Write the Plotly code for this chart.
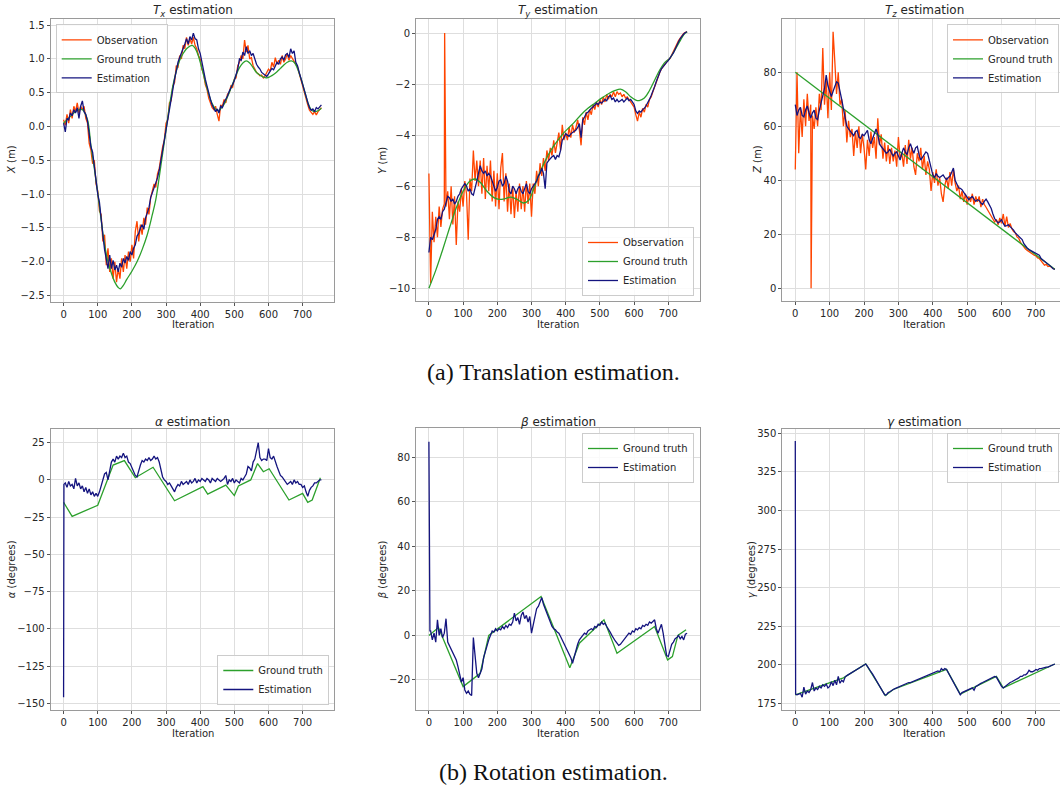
import plotly.graph_objects as go

# ---------------- data ----------------
ITER = list(range(0, 756, 5))        # 0..755 step 5 (152 values)
ITER_FROM5 = list(range(5, 756, 5))  # 5..755 step 5 (151 values)

# T_x (m)
tx_obs = [0.1, 0.02, 0.18, 0.05, 0.25, 0.12, 0.3, 0.22, 0.35, 0.2,
          0.3, 0.25, 0.3, 0.12, 0.05, -0.25, -0.35, -0.55, -0.5, -0.85,
          -0.95, -1.25, -1.3, -1.7, -1.6, -2.05, -1.8, -2.15, -1.95, -2.25,
          -2.0, -2.3, -2.1, -2.25, -1.95, -2.15, -1.9, -2.1, -1.85, -2.0,
          -1.75, -1.95, -1.55, -1.4, -1.7, -1.45, -1.6, -1.35, -1.45, -1.2,
          -1.3, -1.05, -0.95, -0.85, -0.9, -0.7, -0.62, -0.45, -0.3, -0.2,
          0.05, 0.1, 0.35, 0.38, 0.6, 0.65, 0.9, 0.88, 1.05, 1.0,
          1.2, 1.15, 1.32, 1.2, 1.3, 1.22, 1.32, 1.2, 1.15, 1.05,
          1.0, 0.85, 0.78, 0.62, 0.55, 0.42, 0.35, 0.28, 0.25, 0.3,
          0.18, 0.08, 0.32, 0.3, 0.4, 0.35, 0.48, 0.5, 0.6, 0.58,
          0.7, 0.72, 0.9, 0.95, 1.05, 1.0, 1.28, 1.1, 1.2, 1.0,
          1.02, 0.9, 0.85, 0.8, 0.78, 0.75, 0.76, 0.72, 0.75, 0.8,
          0.85, 0.82, 0.95, 0.88, 1.02, 0.92, 0.98, 0.92, 1.05, 0.95,
          1.0, 1.08, 0.98, 1.05, 1.0, 0.95, 0.92, 0.88, 0.78, 0.7,
          0.6, 0.52, 0.42, 0.32, 0.24, 0.2, 0.18, 0.22, 0.17, 0.22,
          0.25, 0.28]
tx_est = [0.05, -0.08, 0.12, 0.1, 0.2, 0.16, 0.25, 0.2, 0.28, 0.12,
          0.3, 0.38, 0.22, 0.18, 0.08, -0.12, -0.3, -0.38, -0.6, -0.8,
          -1.0, -1.12, -1.4, -1.6, -1.82, -1.95, -2.1, -1.9, -2.1, -1.98,
          -2.12, -2.05, -2.15, -2.02, -2.08, -1.95, -2.02, -1.92, -1.98, -1.85,
          -1.9, -1.8, -1.75, -1.62, -1.58, -1.5, -1.45, -1.52, -1.35, -1.28,
          -1.2, -1.05, -0.98, -0.92, -0.85, -0.76, -0.65, -0.5, -0.35, -0.18,
          0.0, 0.12, 0.28, 0.4, 0.55, 0.7, 0.82, 0.95, 1.02, 1.08,
          1.15, 1.22, 1.3, 1.22, 1.33, 1.28, 1.38, 1.3, 1.28, 1.15,
          1.08, 0.95, 0.8, 0.7, 0.6, 0.48, 0.4, 0.32, 0.28, 0.22,
          0.26, 0.2, 0.3, 0.28, 0.36, 0.4, 0.45, 0.52, 0.56, 0.62,
          0.68, 0.75, 0.85, 1.0, 0.98, 1.1, 1.05, 1.18, 1.08, 1.12,
          1.05, 1.08, 0.98, 0.92, 0.88, 0.85, 0.8, 0.78, 0.76, 0.74,
          0.78, 0.82, 0.86, 0.84, 0.9, 0.95, 0.92, 1.0, 1.03, 0.98,
          1.06, 1.08, 1.02, 1.15, 1.08, 1.12, 0.95, 0.9, 0.8, 0.72,
          0.62, 0.55, 0.45, 0.36, 0.28, 0.24, 0.26, 0.22, 0.28, 0.26,
          0.3, 0.32]
tx_gt_it = [0, 20, 40, 55, 70, 80, 90, 100, 110, 120, 130, 140, 150, 160, 166,
            175, 185, 200, 215, 230, 245, 260, 270, 280, 290, 300, 310, 320, 330, 340,
            350, 360, 370, 377, 385, 395, 405, 415, 425, 435, 445, 455, 465, 475, 485,
            495, 505, 515, 525, 535, 545, 555, 565, 575, 585, 595, 605, 615, 625, 635,
            645, 655, 667, 677, 687, 697, 707, 717, 727, 737, 747, 755]
tx_gt = [0.05, 0.15, 0.24, 0.25, 0.1, -0.28, -0.62, -0.98, -1.38, -1.75, -2.0, -2.17, -2.3, -2.38, -2.4,
         -2.35, -2.26, -2.14, -2.0, -1.82, -1.6, -1.3, -1.08, -0.75, -0.4, -0.05, 0.3, 0.6, 0.82, 0.98,
         1.08, 1.15, 1.19, 1.2, 1.16, 1.04, 0.86, 0.66, 0.48, 0.34, 0.26, 0.24, 0.29, 0.38, 0.5,
         0.63, 0.76, 0.87, 0.94, 0.97, 0.94, 0.87, 0.8, 0.76, 0.73, 0.72, 0.74, 0.77, 0.81, 0.86,
         0.91, 0.95, 0.97, 0.94, 0.83, 0.68, 0.5, 0.33, 0.24, 0.22, 0.24, 0.27]

# T_y (m)
ty_obs = [-5.5, -9.8, -7.0, -8.2, -7.2, -8.0, -6.8, -7.6, -6.9, -6.7,
          -6.8, -6.2, -7.3, -6.0, -7.5, -6.4, -8.3, -6.6, -7.0, -6.1,
          -6.8, -5.8, -6.3, -8.1, -5.7, -6.2, -4.6, -5.8, -5.0, -6.0,
          -5.0, -6.3, -4.9, -6.5, -5.2, -6.2, -5.0, -6.6, -5.4, -6.8,
          -5.5, -6.9, -5.3, -4.7, -6.6, -5.5, -7.0, -5.9, -7.1, -6.0,
          -7.25, -6.2, -7.0, -5.9, -6.9, -6.0, -7.0, -5.8, -6.7, -5.9,
          -7.2, -5.9, -6.3, -5.4, -6.0, -5.1, -5.6, -4.9, -5.4, -4.6,
          -5.0, -4.5, -4.8, -4.2, -4.7, -4.3, -3.9, -4.6, -3.6, -4.2,
          -3.9, -4.2, -3.7, -4.1, -3.6, -3.9, -3.7, -3.4, -3.8, -4.4,
          -3.3, -3.6, -3.1, -3.4, -3.0, -3.2, -2.8, -3.0, -2.7, -2.9,
          -2.6, -2.8, -2.5, -2.7, -2.4, -2.6, -2.4, -2.5, -2.3, -2.5,
          -2.3, -2.4, -2.35, -2.5, -2.4, -2.55, -2.5, -2.6, -2.7, -2.85,
          -2.9, -3.2, -3.45, -3.1, -3.3, -2.95, -3.1, -2.8, -2.9, -2.6,
          -2.5, -2.3, -2.1, -1.9, -1.7, -1.55, -1.4, -1.3, -1.2, -1.15,
          -1.05, -1.0, -0.85, -0.75, -0.6, -0.45, -0.3, -0.2, -0.1, -0.02,
          0.03, 0.05]
ty_obs_spike_it = 46
ty_obs_spike = 0.0
ty_est = [-8.6, -8.0, -8.1, -7.9, -7.7, -7.3, -7.2, -7.3, -7.0, -6.9,
          -6.6, -6.4, -6.45, -6.6, -6.5, -6.7, -6.6, -6.4, -6.3, -6.1,
          -6.0, -5.9, -6.0, -6.2, -6.1, -6.3, -6.35, -6.0, -5.8, -5.5,
          -5.2, -5.4, -5.5, -5.4, -5.6, -5.5, -5.6, -5.8, -6.0, -6.2,
          -6.05, -5.8, -5.75, -6.0, -5.9, -5.6, -5.8, -6.2, -6.3, -6.0,
          -6.1, -6.3, -6.1, -6.0, -6.2, -6.3, -6.1, -5.9, -6.2, -6.3,
          -6.1, -6.0, -5.9, -5.8, -5.6, -5.5, -5.3, -5.5, -6.1, -5.1,
          -5.0, -4.9, -4.85, -4.8, -4.95, -4.8, -4.85, -4.6, -4.2, -4.1,
          -3.95, -4.0, -4.05, -3.95, -3.9, -3.85, -3.8, -3.7, -3.55, -4.1,
          -3.4, -3.3, -3.15, -3.1, -3.0, -2.95, -2.9, -2.8, -2.75, -2.8,
          -2.7, -2.75, -2.65, -2.6, -2.65, -2.5, -2.45, -2.6, -2.55, -2.7,
          -2.6, -2.7, -2.65, -2.6, -2.7, -2.6, -2.55, -2.65, -2.6, -2.7,
          -2.8, -3.05, -3.15, -3.05, -3.1, -3.0, -2.95, -2.85, -2.75, -2.6,
          -2.45, -2.3, -2.1, -1.9, -1.7, -1.55, -1.4, -1.3, -1.22, -1.15,
          -1.08, -1.0, -0.88, -0.78, -0.62, -0.48, -0.34, -0.22, -0.12, -0.04,
          0.02, 0.05]
ty_gt_it = [0, 20, 40, 60, 80, 100, 120, 135, 150, 170, 190, 205, 220, 240, 258,
            276, 292, 305, 320, 335, 350, 365, 380, 395, 410, 425, 445, 465, 485, 505,
            525, 545, 560, 575, 590, 605, 615, 630, 645, 660, 675, 690, 705, 720, 735,
            745, 755]
ty_gt = [-10, -9.3, -8.5, -7.65, -6.85, -6.2, -5.8, -5.72, -5.85, -6.2, -6.45, -6.52, -6.5, -6.43, -6.52,
         -6.66, -6.55, -6.15, -5.6, -5.15, -4.75, -4.42, -4.15, -3.9, -3.7, -3.5, -3.2, -2.95, -2.75, -2.55,
         -2.38, -2.25, -2.2, -2.3, -2.5, -2.63, -2.65, -2.55, -2.25, -1.85, -1.45, -1.15, -0.98, -0.65, -0.3,
         -0.07, 0.05]

# T_z (m)
tz_obs = [44, 80, 50, 67, 56, 70, 60, 72, 62, 68,
          64, 59, 67, 60, 72, 66, 89, 68, 77, 63,
          80, 66, 95, 84, 72, 80, 68, 70, 60, 66,
          54, 62, 56, 59, 49, 58, 52, 60, 50, 57,
          52, 44, 55, 49, 58, 52, 56, 48, 63, 53,
          57, 48, 54, 47, 53, 46, 52, 47, 51, 45,
          56, 48, 50, 45, 53, 46, 55, 48, 52, 45,
          42, 50, 47, 52, 44, 49, 42, 47, 44, 36,
          43, 39, 44, 38, 41, 35, 32, 38, 41, 37,
          43, 38, 44, 39, 36, 38, 33, 36, 32, 35,
          31, 34, 32, 35, 31, 34, 32, 34, 30, 33,
          31, 30, 29, 28, 27, 26, 24.5, 25.5, 23.5, 26,
          24, 27.5, 23, 26.5, 22.5, 24, 22, 21, 20.5, 19,
          18.5, 17, 16, 15.5, 14.5, 14, 13.5, 13, 12.5, 12.2,
          12, 11.2, 11, 10.2, 9.5, 8.5, 8.8, 8, 8.2, 7.6,
          7.3, 7.1]
tz_obs_spike_it = 46
tz_obs_spike = 0.0
tz_est = [68, 64, 66, 67, 64, 63.5, 66, 67.5, 65, 63,
          65, 66, 63, 62.5, 66, 69, 71, 74, 79, 75,
          73, 71, 73, 75, 76.5, 76, 73.5, 70, 66.5, 63,
          60, 59, 58, 57, 56.5, 58, 58.5, 56, 55.5, 57,
          56.5, 57.5, 58.5, 55, 53.5, 55.5, 57, 59, 57, 53.5,
          52.5, 51.5, 51, 50, 50.5, 51.5, 50, 49, 50, 50.5,
          49, 47.5, 50, 52, 50.5, 49.5, 52, 53.5, 51.5, 50,
          52, 52.5, 49.5, 47.5, 48.5, 49.5, 50.5, 50, 47, 44.5,
          42, 41, 42.5, 41.5, 41, 41.5, 42, 41, 40.2, 41,
          41.5, 43, 44.5, 40, 38.5, 37.2, 37, 36.5, 35.5, 34.5,
          33.5, 32.8, 33.5, 34, 33, 32.2, 32.8, 32.5, 31.5, 31,
          32.2, 33, 32, 31, 29.5, 27.5, 25.8, 25, 24.2, 24.6,
          25.4, 24, 23, 23.2, 23.5, 22.8, 22.3, 21.5, 20.5, 19.8,
          19.2, 18.6, 18, 16.5, 15.5, 14.8, 14.3, 14, 13.7, 13.2,
          13, 12.6, 12.2, 11, 10.5, 10.1, 9.5, 8.8, 8.4, 7.9,
          7.2, 7.0]
tz_gt_it = [0, 755]
tz_gt = [80, 7]

# alpha (degrees)
alpha_est_head_it = [0, 1]
alpha_est_head = [-146, -3]
alpha_est = [-2, -5, -1, -4, -3, -6, 1, -4, -2, -6,
             -4, -8, -5, -9, -6, -10, -8, -11, -9, -11,
             -8, -4, 0, 4, 5, 0, 6, 12, 14, 12,
             16, 14, 16, 15, 18, 15, 16, 12, 11, 8,
             6, 3, 2, 7, 10, 13, 12, 14, 13, 15,
             13, 14, 16, 14, 15, 12, 7, 2, 0, -1,
             -3, -2, -4, -6, -8, -5, -3, -4, -1, -3,
             -2, -1, -3, 0, -2, -1, 1, -2, 0, -1,
             1, 0, -1, 1, 0, -2, 1, 0, -1, 1,
             0, -1, 0, 1, 3, -3, 0, -1, 1, -2,
             0, -1, -2, 1, 0, 2, 4, 9, 8, 6,
             12, 14, 20, 25, 15, 13, 14, 14, 13, 21,
             15, 14, 16, 12, 9, 6, 3, 2, 0, -1,
             -3, -2, -1, -3, 0, -2, -1, -3, -3, -5,
             -4, -8, -11, -7, -5, -4, -2, -2, -1, 0,
             0]
alpha_gt_it = [0, 25, 100, 145, 178, 210, 262, 325, 408, 422, 475, 500, 512, 548, 568,
               585, 602, 660, 700, 715, 728, 752]
alpha_gt = [-15, -24.5, -17, 10, 13, 1.5, 8.5, -14, -4.5, -9.5, -3.5, -10.5, -4, 0, 11,
            5.5, 7.5, -13.5, -9, -15, -13.5, 1.5]

# beta (degrees)
beta_est_head_it = [0, 1, 3]
beta_est_head = [87, 27, 2]
beta_est = [2, -2, 1, -3, 7, 0, 3, -1, 1, 7.5,
            -3, -4.5, -6, -8, -9, -11, -14, -17, -21, -19,
            -24.5, -26, -25, -26.5, -27, -1, -11, -17, -19, -17,
            -15, -10, -7, -4, -2, 0, 2, 1.5, 3, 2,
            3, 2.5, 4, 3, 4.5, 3.5, 5, 4.5, 6, 10,
            6.5, 8, 5, 9, 10.5, 7.5, 9, 6, 8.5, 1,
            5, 9, 12, 13, 15, 17, 14, 12, 10, 8,
            6, 4, 3, 2.5, 1.5, 1, -0.5, -2, -3.5, -5,
            -6.5, -8, -10, -12.5, -9.5, -6.5, -4, -2, -1, 0,
            1, 0.5, 2, 2.5, 3, 2.5, 4, 3.5, 5, 4.5,
            6, 5, 5.5, 4, 3, 1.5, 0, -1.5, -2.5, -3.5,
            -4.5, -4, -3, -2, -1, 0, 1, 0.5, 2, 1.5,
            3, 2.5, 3.5, 3, 4.5, 4, 5, 4.5, 6, 5.5,
            6.5, 7, 3, 1, 3, 5, 1, -5, -9, -9.5,
            -6, -4, -3, -1.5, -1, 0, -1.5, -0.5, -2, 0.5,
            1]
beta_gt_it = [0, 28, 100, 150, 175, 328, 412, 440, 512, 550, 660, 698, 712, 728, 752]
beta_gt = [0, 3.5, -23, -17, 0, 17.5, -14.5, -3.5, 7, -8, 4, -11, -9.5, 0, 2.5]

# gamma (degrees)
gamma_est_head_it = [0, 1]
gamma_est_head = [345, 181]
gamma_est = [180.5, 181, 181.5, 179, 185.5, 181, 183, 182, 184, 188.5,
             183, 185, 184, 186, 185, 187, 186, 187.5, 185, 186,
             189, 186.5, 190, 187, 192.5, 188, 190, 189, 192, 193,
             193.7, 194.4, 195.1, 195.8, 196.5, 197.2, 197.9, 198.6, 199.3, 200,
             200.5, 199, 197, 195.5, 194, 192, 190.5, 188.5, 187, 185,
             183, 180.5, 180.5, 182, 182.5, 183.5, 184, 184.5, 185, 185.5,
             186, 186.5, 187, 187.5, 188, 188.5, 188.5, 189, 189.5, 190,
             190.5, 191, 191.5, 192, 192.5, 193, 193, 193.5, 194, 194.5,
             195, 195.5, 196, 195.5, 197.5, 196.5, 197.5, 197, 195, 193,
             191, 189, 187, 185, 182.5, 180.5, 182, 182.5, 183, 183.5,
             184, 184.5, 185, 183.5, 186, 186.5, 187.5, 188, 188.5, 189,
             189.5, 190.5, 191, 191.5, 192, 192.5, 192, 190, 188, 186,
             185, 186, 187, 187.5, 188.5, 189, 189.5, 190.5, 191, 191.5,
             192.5, 192.5, 193.5, 193.5, 194.5, 196.5, 195.5, 195.5, 196, 197,
             196.5, 197.5, 197.5, 198, 198.5, 198.5, 198.5, 199, 199.5, 200,
             200.5]
gamma_gt_it = [0, 140, 205, 262, 285, 440, 480, 585, 605, 755]
gamma_gt = [180.5, 191.5, 200.5, 180, 184, 197, 181, 192.5, 185, 200.5]

captions = ["(a) Translation estimation.", "(b) Rotation estimation."]

# ---------------- helpers ----------------
def with_spike(its, vals, s_it, s_val):
    pairs = sorted(list(zip(its, vals)) + [(s_it, s_val)])
    return [p[0] for p in pairs], [p[1] for p in pairs]

W, H = 1060, 792
def px(x):
    return x / W
def py(y):
    return 1 - y / H

OBS_C = "#ff4500"
GT_C = "#2ca02c"
EST_C = "#14147f"
FONT = "DejaVu Sans"
TXT = "#262626"
LW = 1.3

fig = go.Figure()

def add(xs, ys, color, name, k, shape="linear"):
    ax = "" if k == 1 else str(k)
    fig.add_trace(go.Scatter(
        x=xs, y=ys, mode="lines", name=name,
        line=dict(color=color, width=LW, shape=shape),
        xaxis="x" + ax, yaxis="y" + ax,
        legend="legend" + ax, showlegend=True, hoverinfo="skip"))

# panel 1: Tx
add(ITER, tx_obs, OBS_C, "Observation", 1)
add(tx_gt_it, tx_gt, GT_C, "Ground truth", 1, "spline")
add(ITER, tx_est, EST_C, "Estimation", 1)
# panel 2: Ty
x2, y2 = with_spike(ITER, ty_obs, ty_obs_spike_it, ty_obs_spike)
add(x2, y2, OBS_C, "Observation", 2)
add(ty_gt_it, ty_gt, GT_C, "Ground truth", 2, "spline")
add(ITER, ty_est, EST_C, "Estimation", 2)
# panel 3: Tz
x3, y3 = with_spike(ITER, tz_obs, tz_obs_spike_it, tz_obs_spike)
add(x3, y3, OBS_C, "Observation", 3)
add(tz_gt_it, tz_gt, GT_C, "Ground truth", 3)
add(ITER, tz_est, EST_C, "Estimation", 3)
# panel 4: alpha
add(alpha_gt_it, alpha_gt, GT_C, "Ground truth", 4)
add(alpha_est_head_it + ITER_FROM5, alpha_est_head + alpha_est, EST_C, "Estimation", 4)
# panel 5: beta
add(beta_gt_it, beta_gt, GT_C, "Ground truth", 5)
add(beta_est_head_it + ITER_FROM5, beta_est_head + beta_est, EST_C, "Estimation", 5)
# panel 6: gamma
add(gamma_gt_it, gamma_gt, GT_C, "Ground truth", 6)
add(gamma_est_head_it + ITER_FROM5, gamma_est_head + gamma_est, EST_C, "Estimation", 6)

def neg(v, fmt):
    s = fmt.format(v)
    return s.replace("-", "\u2212")

panels = [
    dict(box=(50.7, 334.3, 19, 301.7), xr=[-37.75, 792.75], yr=[-2.59, 1.59],
         yt=[-2.5, -2, -1.5, -1, -0.5, 0, 0.5, 1, 1.5], yf="{:.1f}"),
    dict(box=(416, 700, 19, 301), xr=[-37.75, 792.75], yr=[-10.5, 0.55],
         yt=[-10, -8, -6, -4, -2, 0], yf="{:.0f}"),
    dict(box=(782.3, 1060, 19, 301), xr=[-37.75, 770.1], yr=[-4.75, 99.75],
         yt=[0, 20, 40, 60, 80], yf="{:.0f}"),
    dict(box=(50.7, 334.3, 429, 710), xr=[-37.75, 792.75], yr=[-154.5, 34.2],
         yt=[-150, -125, -100, -75, -50, -25, 0, 25], yf="{:.0f}"),
    dict(box=(416, 700, 428.3, 710), xr=[-37.75, 792.75], yr=[-33.5, 93],
         yt=[-20, 0, 20, 40, 60, 80], yf="{:.0f}"),
    dict(box=(782.3, 1060, 429, 710), xr=[-37.75, 770.1], yr=[170.7, 352.8],
         yt=[175, 200, 225, 250, 275, 300, 325, 350], yf="{:.0f}"),
]

layout = dict(
    width=W, height=H, margin=dict(l=0, r=0, t=0, b=0),
    paper_bgcolor="white", plot_bgcolor="white",
    font=dict(family=FONT, size=10, color=TXT),
)
xticks = list(range(0, 701, 100))
for i, p in enumerate(panels, start=1):
    s = "" if i == 1 else str(i)
    x0, x1, y0, y1 = p["box"]
    common = dict(showline=True, linecolor="#9a9a9a", linewidth=1, mirror=True,
                  showgrid=True, gridcolor="#dedede", gridwidth=1, zeroline=False,
                  ticks="outside", ticklen=3, tickcolor="#555555", tickwidth=1,
                  tickfont=dict(family=FONT, size=10, color=TXT))
    layout["xaxis" + s] = dict(domain=[px(x0), px(x1)], range=p["xr"],
                               anchor="y" + s, tickvals=xticks,
                               ticktext=[str(v) for v in xticks], **common)
    layout["yaxis" + s] = dict(domain=[py(y1), py(y0)], range=p["yr"],
                               anchor="x" + s, tickvals=p["yt"],
                               ticktext=[neg(v, p["yf"]) for v in p["yt"]], **common)

leg_common = dict(bgcolor="rgba(255,255,255,0.85)", bordercolor="#cccccc", borderwidth=1,
                  font=dict(family=FONT, size=10, color=TXT), xref="paper", yref="paper",
                  itemwidth=30, tracegroupgap=0)
layout["legend"] = dict(x=px(55.7), y=py(24.3), xanchor="left", yanchor="top", **leg_common)
layout["legend2"] = dict(x=px(694), y=py(296), xanchor="right", yanchor="bottom", **leg_common)
layout["legend3"] = dict(x=px(1059), y=py(24.3), xanchor="right", yanchor="top", **leg_common)
layout["legend4"] = dict(x=px(329.3), y=py(705), xanchor="right", yanchor="bottom", **leg_common)
layout["legend5"] = dict(x=px(694), y=py(433), xanchor="right", yanchor="top", **leg_common)
layout["legend6"] = dict(x=px(1059), y=py(433), xanchor="right", yanchor="top", **leg_common)

ann = []
titles = [
    ("<i>T<sub>x</sub></i> estimation", 192.5, 11.5),
    ("<i>T<sub>y</sub></i> estimation", 558, 11.5),
    ("<i>T<sub>z</sub></i> estimation", 924, 11.5),
    ("<i>\u03b1</i> estimation", 192.5, 421.5),
    ("<i>\u03b2</i> estimation", 558, 421.5),
    ("<i>\u03b3</i> estimation", 924, 421.5),
]
for t, x, y in titles:
    ann.append(dict(text=t, x=px(x), y=py(y), xref="paper", yref="paper",
                    showarrow=False, xanchor="center", yanchor="middle",
                    font=dict(family=FONT, size=12, color=TXT)))
ylabels = [
    ("<i>X</i> (m)", 12, 160), ("<i>Y</i> (m)", 382.7, 160), ("<i>Z</i> (m)", 758, 160),
    ("<i>\u03b1</i> (degrees)", 11.7, 569.5), ("<i>\u03b2</i> (degrees)", 382.7, 569.5),
    ("<i>\u03b3</i> (degrees)", 751.7, 569.5),
]
for t, x, y in ylabels:
    ann.append(dict(text=t, x=px(x), y=py(y), xref="paper", yref="paper",
                    showarrow=False, xanchor="center", yanchor="middle", textangle=-90,
                    font=dict(family=FONT, size=10, color=TXT)))
for x in (192.5, 558, 924):
    for y in (324.5, 733.5):
        ann.append(dict(text="Iteration", x=px(x), y=py(y), xref="paper", yref="paper",
                        showarrow=False, xanchor="center", yanchor="middle",
                        font=dict(family=FONT, size=10, color=TXT)))
for t, y in zip(captions, (372, 772)):
    ann.append(dict(text=t, x=px(553), y=py(y), xref="paper", yref="paper",
                    showarrow=False, xanchor="center", yanchor="middle",
                    font=dict(family="Liberation Serif", size=24, color="#111111")))
layout["annotations"] = ann

fig.update_layout(**layout)
fig.write_html("out.html")
